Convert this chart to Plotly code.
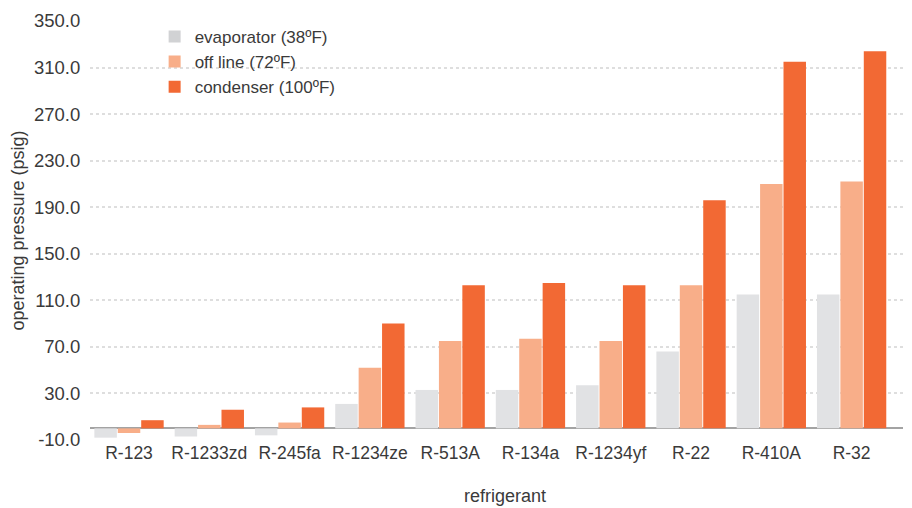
import plotly.graph_objects as go

categories = ["R-123", "R-1233zd", "R-245fa", "R-1234ze", "R-513A",
              "R-134a", "R-1234yf", "R-22", "R-410A", "R-32"]
evaporator = [-8, -7, -6, 21, 33, 33, 37, 66, 115, 115]
off_line = [-4, 3, 5, 52, 75, 77, 75, 123, 210, 212]
condenser = [7, 16, 18, 90, 123, 125, 123, 196, 315, 324]

series_names = ["evaporator (38ºF)", "off line (72ºF)", "condenser (100ºF)"]
bar_colors = ["#e1e2e4", "#f8ae89", "#f26934"]
legend_colors = ["#d1d2d4", "#f8ae89", "#f26934"]
y_ticks = [-10, 30, 70, 110, 150, 190, 230, 270, 310, 350]
y_tick_labels = ["-10.0", "30.0", "70.0", "110.0", "150.0", "190.0",
                 "230.0", "270.0", "310.0", "350.0"]

FONT = "Liberation Sans, Arial, sans-serif"
TXT = "#3a3a3a"

fig = go.Figure()
for name, vals, col in zip(series_names, [evaporator, off_line, condenser], bar_colors):
    fig.add_trace(go.Bar(x=categories, y=vals, name=name, marker_color=col,
                         marker_line_width=0, showlegend=False))
for name, col in zip(series_names, legend_colors):
    fig.add_trace(go.Scatter(x=[None], y=[None], mode="markers", name=name,
                             marker=dict(symbol="square", size=13, color=col)))

# page body has an 8px margin, so the figure is sized to fill the 912x508 window
fig.update_layout(
    width=904, height=500,
    margin=dict(l=82, r=9, t=13, b=68, autoexpand=False),
    paper_bgcolor="white", plot_bgcolor="white",
    barmode="group", bargap=0.125, bargroupgap=0.04,
    font=dict(family=FONT, size=18, color=TXT),
    legend=dict(x=0.0795, y=1.005, xanchor="left", yanchor="top",
                font=dict(size=17, color=TXT), bgcolor="rgba(0,0,0,0)",
                tracegroupgap=0, itemsizing="constant"),
    annotations=[dict(text="refrigerant", xref="paper", yref="paper",
                      x=0.51, y=-0.134, xanchor="center", yanchor="middle",
                      showarrow=False, font=dict(size=18, color=TXT))],
)
fig.update_xaxes(
    automargin=False,
    range=[-0.486, 9.64], showgrid=False, showline=False, ticks="",
    tickfont=dict(size=17.5, color=TXT),
)
fig.update_yaxes(
    automargin=False,
    range=[-10, 350], tickvals=y_ticks, ticktext=y_tick_labels,
    showgrid=True, gridcolor="#dedede", gridwidth=1.5, griddash="dot",
    zeroline=True, zerolinecolor="#a3a3a3", zerolinewidth=2,
    showline=False, ticks="outside", ticklen=5, tickcolor="rgba(0,0,0,0)",
    tickfont=dict(size=18.5, color=TXT),
    title=dict(text="operating pressure (psig)", font=dict(size=18, color=TXT), standoff=4),
)

fig.write_html("out.html")
